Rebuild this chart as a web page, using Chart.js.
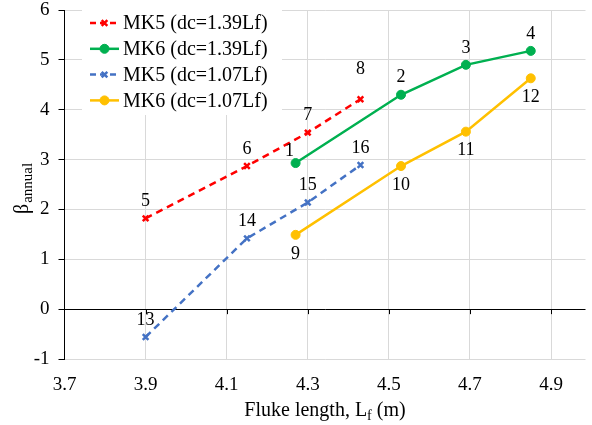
<!DOCTYPE html>
<html>

<head>
    <title>Beta annual vs fluke length</title>
    <script src="https://cdn.jsdelivr.net/npm/chart.js"></script>
    <style>
        body { margin: 0; background: #fff; }
        #wrap { width: 592px; height: 425px; position: relative; }
    </style>
</head>

<body>
    <div id="wrap"><canvas id="betaChart"></canvas></div>

    <script>
        // data
        const seriesNames = ['MK5 (dc=1.39Lf)', 'MK6 (dc=1.39Lf)', 'MK5 (dc=1.07Lf)', 'MK6 (dc=1.07Lf)'];

        const mk5LongX = [3.9, 4.15, 4.3, 4.43];
        const mk5LongY = [1.82, 2.87, 3.54, 4.21];
        const mk5LongLabels = ['5', '6', '7', '8'];

        const mk6LongX = [4.27, 4.53, 4.69, 4.85];
        const mk6LongY = [2.93, 4.30, 4.90, 5.18];
        const mk6LongLabels = ['1', '2', '3', '4'];

        const mk5ShortX = [3.9, 4.15, 4.3, 4.43];
        const mk5ShortY = [-0.56, 1.42, 2.14, 2.89];
        const mk5ShortLabels = ['13', '14', '15', '16'];

        const mk6ShortX = [4.27, 4.53, 4.69, 4.85];
        const mk6ShortY = [1.49, 2.87, 3.56, 4.63];
        const mk6ShortLabels = ['9', '10', '11', '12'];

        const xTicks = [3.7, 3.9, 4.1, 4.3, 4.5, 4.7, 4.9];

        const SERIF = 'Liberation Serif';
        Chart.defaults.font.family = SERIF;

        function pts(xs, ys) {
            return xs.map((x, i) => ({ x: x, y: ys[i] }));
        }

        // label above or below each point, a couple nudged
        const labelSets = [
            { text: mk5LongLabels, dy: -17, nudge: { 3: [0, -30] } },
            { text: mk6LongLabels, dy: -17, nudge: { 0: [-6, -12] } },
            { text: mk5ShortLabels, dy: -17, nudge: {} },
            { text: mk6ShortLabels, dy: 19, nudge: {} }
        ];

        const pointLabels = {
            id: 'pointLabels',
            afterDatasetsDraw(chart) {
                const ctx = chart.ctx;
                ctx.save();
                ctx.font = '18px "' + SERIF + '"';
                ctx.fillStyle = '#000';
                ctx.textAlign = 'center';
                ctx.textBaseline = 'middle';
                labelSets.forEach((set, di) => {
                    chart.getDatasetMeta(di).data.forEach((el, i) => {
                        const off = set.nudge[i] || [0, set.dy];
                        ctx.fillText(set.text[i], el.x + off[0], el.y + off[1]);
                    });
                });
                ctx.restore();
            }
        };

        // x ticks sit on the zero line, titles have subscripts
        const extras = {
            id: 'extras',
            afterDraw(chart) {
                const ctx = chart.ctx;
                const xs = chart.scales.x, ys = chart.scales.y;
                const y0 = ys.getPixelForValue(0);
                ctx.save();
                ctx.strokeStyle = '#000';
                ctx.lineWidth = 1;
                xTicks.slice(1).forEach(v => {
                    const px = Math.round(xs.getPixelForValue(v)) + 0.5;
                    ctx.beginPath();
                    ctx.moveTo(px, y0);
                    ctx.lineTo(px, y0 + 5);
                    ctx.stroke();
                });

                // x title
                ctx.fillStyle = '#000';
                ctx.textBaseline = 'alphabetic';
                ctx.textAlign = 'left';
                const big = '20px "' + SERIF + '"', small = '14px "' + SERIF + '"';
                ctx.font = big;
                const a = 'Fluke length, L', c = ' (m)';
                const wa = ctx.measureText(a).width, wc = ctx.measureText(c).width;
                ctx.font = small;
                const wb = ctx.measureText('f').width;
                const cx = (chart.chartArea.left + chart.chartArea.right) / 2;
                let x = cx - (wa + wb + wc) / 2;
                const base = 416;
                ctx.font = big;
                ctx.fillText(a, x, base);
                ctx.font = small;
                ctx.fillText('f', x + wa, base + 4);
                ctx.font = big;
                ctx.fillText(c, x + wa + wb, base);

                // y title
                ctx.save();
                ctx.translate(28, 214);
                ctx.rotate(-Math.PI / 2);
                ctx.font = big;
                ctx.fillText('β', 0, 0);
                const wbeta = ctx.measureText('β').width;
                ctx.font = '15px "' + SERIF + '"';
                ctx.fillText('annual', wbeta + 1, 4);
                ctx.restore();

                // legend box inside the plot
                ctx.fillStyle = '#fff';
                ctx.fillRect(82, 8, 200, 107);
                ctx.font = big;
                ctx.textBaseline = 'middle';
                chart.data.datasets.forEach((ds, i) => {
                    const ly = 23 + i * 25.8;
                    ctx.strokeStyle = ds.borderColor;
                    ctx.fillStyle = ds.borderColor;
                    ctx.lineWidth = ds.borderWidth;
                    ctx.setLineDash(ds.borderDash ? [6, 4] : []);
                    ctx.beginPath();
                    ctx.moveTo(90, ly);
                    ctx.lineTo(119, ly);
                    ctx.stroke();
                    ctx.setLineDash([]);
                    ctx.lineWidth = ds.pointBorderWidth;
                    Chart.helpers.drawPoint(ctx, {
                        pointStyle: ds.pointStyle,
                        radius: ds.pointRadius,
                        borderWidth: ds.pointBorderWidth,
                        rotation: 0
                    }, 104.5, ly);
                    ctx.fillStyle = '#000';
                    ctx.fillText(ds.label, 123, ly + 1);
                });
                ctx.restore();
            }
        };

        function makeSet(name, xs, ys, color, dashed) {
            return {
                label: name,
                data: pts(xs, ys),
                borderColor: color,
                backgroundColor: color,
                borderWidth: 2.5,
                borderDash: dashed ? [7, 5] : undefined,
                pointStyle: dashed ? 'crossRot' : 'circle',
                pointRadius: dashed ? 4 : 4.5,
                pointBorderWidth: dashed ? 2.5 : 1,
                pointBackgroundColor: color,
                pointBorderColor: color,
                tension: 0,
                fill: false
            };
        }

        const datasets = [
            makeSet(seriesNames[0], mk5LongX, mk5LongY, '#FF0000', true),
            makeSet(seriesNames[1], mk6LongX, mk6LongY, '#00B050', false),
            makeSet(seriesNames[2], mk5ShortX, mk5ShortY, '#4472C4', true),
            makeSet(seriesNames[3], mk6ShortX, mk6ShortY, '#FFC000', false)
        ];

        const ctx = document.getElementById('betaChart').getContext('2d');

        new Chart(ctx, {
            type: 'line',
            data: { datasets },
            options: {
                responsive: true,
                maintainAspectRatio: false,
                animation: false,
                layout: { padding: { top: 10, right: 0, left: 0, bottom: 0 } },
                plugins: {
                    legend: { display: false },
                    tooltip: { enabled: false }
                },
                scales: {
                    x: {
                        type: 'linear',
                        min: 3.7,
                        max: 4.985,
                        afterBuildTicks: scale => { scale.ticks = xTicks.map(v => ({ value: v })); },
                        afterFit: scale => {
                            scale.height = 66;
                            scale.paddingLeft = 0;
                            scale.paddingRight = 0;
                        },
                        ticks: {
                            font: { family: SERIF, size: 19 },
                            color: '#000',
                            padding: 15,
                            maxRotation: 0,
                            callback: v => v.toFixed(1)
                        },
                        grid: { color: '#d9d9d9', drawTicks: false },
                        border: { display: false }
                    },
                    y: {
                        min: -1,
                        max: 6,
                        afterFit: scale => {
                            scale.width = 64.5;
                            scale.paddingTop = 0;
                            scale.paddingBottom = 0;
                        },
                        ticks: {
                            stepSize: 1,
                            font: { family: SERIF, size: 19 },
                            color: '#000',
                            padding: 9
                        },
                        grid: {
                            color: c => c.tick.value === 0 ? '#000' : '#d9d9d9',
                            tickColor: '#000',
                            tickLength: 6
                        },
                        border: { color: '#000', width: 1 }
                    }
                }
            },
            plugins: [pointLabels, extras]
        });
    </script>

</body>

</html>
